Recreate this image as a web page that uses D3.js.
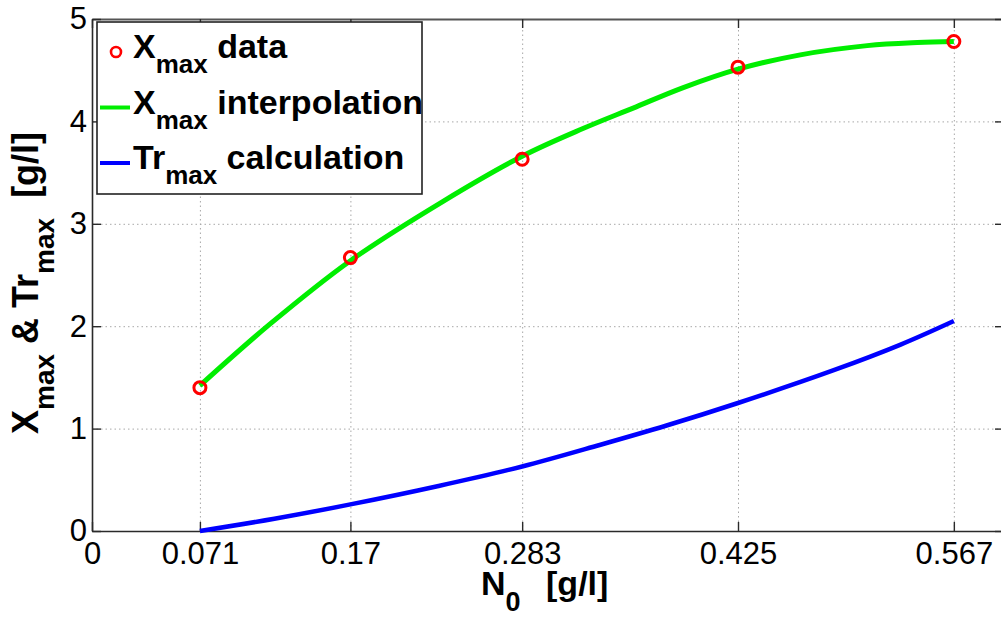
<!DOCTYPE html>
<html>
<head>
<meta charset="utf-8">
<script src="https://cdn.jsdelivr.net/npm/d3@7"></script>
<style>
  body { margin: 0; background: #fff; }
  svg { display: block; font-family: "Liberation Sans", Arial, sans-serif; }
  text, tspan { white-space: pre; }
</style>
</head>
<body>
<div id="chart"></div>
<script>
// tick values
var xTicks = [0, 0.071, 0.17, 0.283, 0.425, 0.567];
var yTicks = [0, 1, 2, 3, 4, 5];

// X_max measured data
var dataN = [0.071, 0.17, 0.283, 0.425, 0.567];
var dataXmax = [1.40, 2.67, 3.63, 4.53, 4.78];

// X_max interpolation
var interpN = [0.071, 0.117, 0.17, 0.231, 0.283, 0.323, 0.356, 0.389, 0.425, 0.466, 0.51, 0.543, 0.567];
var interpX = [1.42, 2.02, 2.64, 3.22, 3.66, 3.93, 4.13, 4.33, 4.51, 4.65, 4.74, 4.77, 4.78];

// Tr_max calculation
var calcN = [0.071, 0.12, 0.17, 0.228, 0.283, 0.334, 0.378, 0.425, 0.488, 0.532, 0.567];
var calcTr = [0, 0.12, 0.26, 0.44, 0.63, 0.84, 1.03, 1.25, 1.57, 1.82, 2.05];

// set the dimensions and margins of the graph
var margin = {top: 19, left: 92},
  width = 912,
  height = 512;

var svg = d3.select("#chart")
.append("svg")
  .attr("width", 1001)
  .attr("height", 617)
.append("g")
  .attr("transform", "translate(" + margin.left + "," + margin.top + ")");

var x = d3.scaleLinear().domain([0, 0.6]).range([0, width]);
var y = d3.scaleLinear().domain([0, 5]).range([height, 0]);

// dotted grid
var gridX = svg.append("g")
  .attr("transform", "translate(0," + height + ")")
  .call(d3.axisBottom(x).tickValues(xTicks.slice(1)).tickSize(-height).tickFormat(""));
var gridY = svg.append("g")
  .call(d3.axisLeft(y).tickValues(yTicks.slice(1, -1)).tickSize(-width).tickFormat(""));
[gridX, gridY].forEach(function(g) {
  g.select(".domain").remove();
  g.selectAll("line").attr("stroke", "#a8a8a8").attr("stroke-width", 1).attr("stroke-dasharray", "1.5,3");
});

// axes with inward ticks
var bottomAxis = svg.append("g")
  .attr("transform", "translate(0," + height + ")")
  .call(d3.axisBottom(x).tickValues(xTicks).tickSizeInner(-9).tickSizeOuter(0).tickPadding(11)
    .tickFormat(function(d) { return String(d); }));
var topAxis = svg.append("g")
  .call(d3.axisTop(x).tickValues(xTicks).tickSizeInner(-9).tickSizeOuter(0).tickFormat(""));
var leftAxis = svg.append("g")
  .call(d3.axisLeft(y).tickValues(yTicks).tickSizeInner(-9).tickSizeOuter(0).tickPadding(5)
    .tickFormat(d3.format("d")));
var rightAxis = svg.append("g")
  .attr("transform", "translate(" + width + ",0)")
  .call(d3.axisRight(y).tickValues(yTicks).tickSizeInner(-9).tickSizeOuter(0).tickFormat(""));

[bottomAxis, topAxis, leftAxis, rightAxis].forEach(function(g) {
  g.select(".domain").attr("stroke", "#2a2a2a").attr("stroke-width", 1.6);
  g.selectAll(".tick line").attr("stroke", "#2a2a2a").attr("stroke-width", 1.4);
  g.selectAll("text").attr("fill", "#000").style("font-size", "31px")
    .style("font-family", "'Liberation Sans', Arial, sans-serif");
});
topAxis.select(".domain").attr("stroke", "#555").attr("stroke-width", 2);

// curves
var line = d3.line()
  .x(function(d) { return x(d[0]); })
  .y(function(d) { return y(d[1]); })
  .curve(d3.curveCatmullRom.alpha(0.5));

svg.append("path")
  .datum(calcN.map(function(n, i) { return [n, calcTr[i]]; }))
  .attr("d", line)
  .attr("fill", "none")
  .attr("stroke", "#0000ff")
  .attr("stroke-width", 4.5);

svg.append("path")
  .datum(interpN.map(function(n, i) { return [n, interpX[i]]; }))
  .attr("d", line)
  .attr("fill", "none")
  .attr("stroke", "#00ee00")
  .attr("stroke-width", 5);

svg.selectAll(".pt")
  .data(dataN)
  .enter()
  .append("circle")
  .attr("class", "pt")
  .attr("cx", function(d) { return x(d); })
  .attr("cy", function(d, i) { return y(dataXmax[i]); })
  .attr("r", 6)
  .attr("fill", "none")
  .attr("stroke", "#ff0000")
  .attr("stroke-width", 3);

// legend
var legendItems = [
  {main: "X", sub: "max", rest: " data", kind: "marker", color: "#ff0000"},
  {main: "X", sub: "max", rest: " interpolation", kind: "line", color: "#00ee00"},
  {main: "Tr", sub: "max", rest: " calculation", kind: "line", color: "#0000ff"}
];

var legend = svg.append("g").attr("transform", "translate(5,3)");
legend.append("rect")
  .attr("width", 325)
  .attr("height", 172)
  .attr("fill", "#fff")
  .attr("stroke", "#222")
  .attr("stroke-width", 1.6);

legendItems.forEach(function(item, i) {
  var cy = 30 + i * 55.5;
  if (item.kind === "marker") {
    legend.append("circle").attr("cx", 19).attr("cy", cy).attr("r", 5)
      .attr("fill", "none").attr("stroke", item.color).attr("stroke-width", 2.6);
  } else {
    legend.append("line").attr("x1", 3).attr("x2", 33).attr("y1", cy).attr("y2", cy)
      .attr("stroke", item.color).attr("stroke-width", 4);
  }
  var t = legend.append("text")
    .attr("x", 36)
    .attr("y", cy + 6)
    .style("font-size", "34px")
    .style("font-weight", "bold");
  t.append("tspan").text(item.main);
  t.append("tspan").attr("dy", 15).style("font-size", "26px").text(item.sub);
  t.append("tspan").attr("dy", -15).text(item.rest);
});

// axis labels
var xl = svg.append("text")
  .attr("x", 481 - margin.left)
  .attr("y", height + 64)
  .style("font-size", "34px")
  .style("font-weight", "bold");
xl.append("tspan").text("N");
xl.append("tspan").attr("dy", 16).style("font-size", "27px").text("0");
xl.append("tspan").attr("dy", -16).attr("dx", 16).text(" [g/l]");

var yl = svg.append("text")
  .attr("transform", "translate(" + (38 - margin.left) + "," + (434 - margin.top) + ") rotate(-90)")
  .style("font-size", "36px")
  .style("font-weight", "bold");
yl.append("tspan").text("X");
yl.append("tspan").attr("dy", 16).style("font-size", "28px").text("max");
yl.append("tspan").attr("dy", -16).text(" & Tr");
yl.append("tspan").attr("dy", 16).style("font-size", "28px").text("max");
yl.append("tspan").attr("dy", -16).attr("dx", 10).text(" [g/l]");
</script>
</body>
</html>
